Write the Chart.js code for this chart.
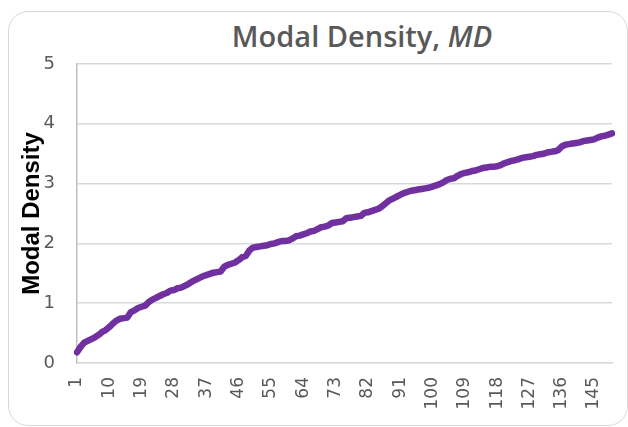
<!DOCTYPE html>
<html>
<head>
<meta charset="utf-8">
<script src="https://cdn.jsdelivr.net/npm/chart.js@4"></script>
<style>
  body { margin: 0; background: #fff; }
  #wrap { position: relative; width: 628px; height: 427px; overflow: hidden; }
  #frame { position: absolute; left: 8px; top: 11px; width: 620px; height: 415px;
           border: 1.5px solid #d9d9d9; border-radius: 20px; box-sizing: border-box; }
  #title { position: absolute; left: 0; width: 628px; top: 21px; padding-left: 96px; box-sizing: border-box;
           text-align: center; font-family: "Open Sans", sans-serif; font-size: 29px; font-weight: 600;
           line-height: 1; color: #595959; }
  canvas { position: absolute; left: 0; top: 0; }
</style>
</head>
<body>
<div id="wrap">
  <div id="frame"></div>
  <div id="title">Modal Density, <i>MD</i></div>
  <canvas id="myChart" width="628" height="427"></canvas>
</div>
<script>
const modalDensity = [
  0.18, 0.27, 0.34, 0.37, 0.40, 0.43, 0.47, 0.52, 0.55, 0.60,
  0.66, 0.71, 0.74, 0.75, 0.76, 0.85, 0.88, 0.92, 0.94, 0.96,
  1.02, 1.06, 1.09, 1.12, 1.15, 1.17, 1.21, 1.22, 1.25, 1.26,
  1.29, 1.32, 1.36, 1.39, 1.42, 1.45, 1.47, 1.49, 1.51, 1.52,
  1.53, 1.61, 1.64, 1.66, 1.68, 1.72, 1.77, 1.79, 1.88, 1.93,
  1.94, 1.95, 1.96, 1.97, 1.99, 2.00, 2.02, 2.04, 2.04, 2.05,
  2.08, 2.12, 2.13, 2.15, 2.17, 2.20, 2.21, 2.24, 2.27, 2.28,
  2.30, 2.34, 2.35, 2.36, 2.37, 2.42, 2.43, 2.44, 2.45, 2.46,
  2.51, 2.52, 2.54, 2.56, 2.58, 2.62, 2.67, 2.72, 2.75, 2.78,
  2.81, 2.84, 2.86, 2.88, 2.89, 2.90, 2.91, 2.92, 2.93, 2.95,
  2.97, 2.99, 3.02, 3.06, 3.08, 3.09, 3.13, 3.16, 3.18, 3.19,
  3.21, 3.22, 3.24, 3.26, 3.27, 3.28, 3.28, 3.29, 3.31, 3.34,
  3.36, 3.38, 3.39, 3.41, 3.43, 3.44, 3.45, 3.46, 3.48, 3.49,
  3.50, 3.52, 3.53, 3.54, 3.56, 3.62, 3.65, 3.66, 3.67, 3.68,
  3.69, 3.71, 3.72, 3.73, 3.74, 3.77, 3.79, 3.80, 3.82, 3.84
];
const modeNumbers = modalDensity.map((v, i) => String(i + 1));
const yTicks = [0, 1, 2, 3, 4, 5];
const labelStep = 9;

window.onload = () => {
    const ctx = document.getElementById('myChart').getContext("2d");
    new Chart(ctx, {
        type: "line",
        data: {
            labels: modeNumbers,
            datasets: [{
                label: "Modal Density",
                data: modalDensity,
                borderColor: "#7030a0",
                borderWidth: 6.5,
                pointRadius: 0,
                tension: 0,
                borderJoinStyle: "round",
                borderCapStyle: "round"
            }]
        },
        options: {
            responsive: false,
            animation: false,
            layout: { padding: { top: 64, right: 16, left: 0, bottom: 0 } },
            plugins: { legend: { display: false }, tooltip: { enabled: false } },
            scales: {
                x: {
                    offset: false,
                    afterFit: axis => {
                        axis.height = 64;
                        axis.paddingLeft = 0;
                        axis.paddingRight = 0;
                    },
                    grid: { display: false, drawTicks: false },
                    border: { color: "#d9d9d9", width: 1.5 },
                    ticks: {
                        autoSkip: false,
                        minRotation: 90,
                        maxRotation: 90,
                        padding: 14,
                        color: "#595959",
                        font: { family: "DejaVu Sans", size: 17 },
                        callback: (v, i) => (i % labelStep === 0 ? modeNumbers[i] : "")
                    }
                },
                y: {
                    min: yTicks[0],
                    max: yTicks[yTicks.length - 1],
                    afterFit: axis => { axis.width = 77; },
                    afterBuildTicks: axis => { axis.ticks = yTicks.map(v => ({ value: v })); },
                    grid: { color: "#d9d9d9", lineWidth: 1.5, drawTicks: false },
                    border: { color: "#bfbfbf", width: 1.5 },
                    ticks: {
                        padding: 22,
                        color: "#595959",
                        font: { family: "DejaVu Sans", size: 18 }
                    },
                    title: {
                        display: true,
                        text: "Modal Density",
                        color: "#000",
                        font: { family: "Liberation Sans", size: 24, weight: "bold" },
                        padding: { top: 18, bottom: 0 }
                    }
                }
            }
        }
    });
};
</script>
</body>
</html>
